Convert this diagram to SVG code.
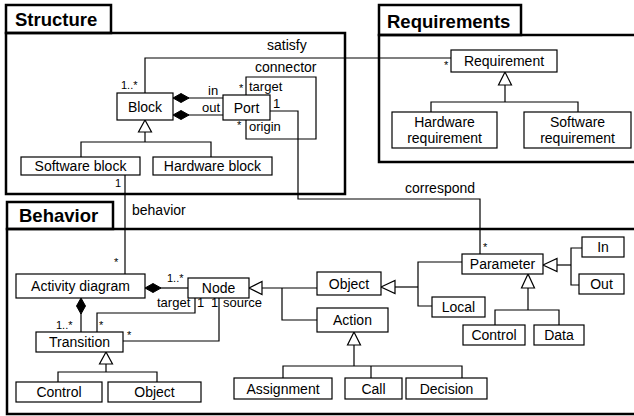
<svg xmlns="http://www.w3.org/2000/svg" width="634" height="416" viewBox="0 0 634 416">
<style>
text{font-family:"Liberation Sans",Arial,sans-serif;fill:#000}
.frame{fill:none;stroke:#000;stroke-width:2.5}
.title{font-size:18.5px;font-weight:bold}
.box{fill:#fff;stroke:#000;stroke-width:1.2}
.bt{font-size:14px;text-anchor:middle}
.ln{fill:none;stroke:#000;stroke-width:1.2}
.tri{fill:#fff;stroke:#000;stroke-width:1.2}
.dia{fill:#000;stroke:#000;stroke-width:1}
.nm{font-size:14px}
.rl{font-size:13px}
.mu{font-size:11px}
</style>
<rect width="634" height="416" fill="#fff"/>
<g id="frames">
<rect class="frame" x="6" y="33" width="339" height="161"/>
<rect class="frame" x="6" y="5" width="105" height="28"/>
<text class="title" x="15" y="26">Structure</text>
<rect class="frame" x="379" y="35" width="262" height="127"/>
<rect class="frame" x="379" y="5" width="142" height="30"/>
<text class="title" x="387" y="28">Requirements</text>
<rect class="frame" x="7" y="229" width="632" height="185"/>
<rect class="frame" x="7" y="202" width="106" height="27"/>
<text class="title" x="19" y="222">Behavior</text>
</g>
<g id="connectors">
<polyline class="ln" points="145,93 145,58 451,58"/>
<text class="nm" x="267" y="50">satisfy</text>
<text class="mu" x="121" y="89">1..*</text>
<text class="mu" x="444" y="69">*</text>
<line class="ln" x1="188" y1="98" x2="223" y2="98"/>
<polygon class="dia" points="173,98 181,93.5 189,98 181,102.5"/>
<line class="ln" x1="188" y1="115" x2="223" y2="115"/>
<polygon class="dia" points="173,115 181,110.5 189,115 181,119.5"/>
<text class="rl" x="208" y="95">in</text>
<text class="rl" x="202" y="112">out</text>
<polyline class="ln" points="246,95 246,77 316,77 316,139 246,139 246,120"/>
<text class="nm" x="255" y="72">connector</text>
<text class="mu" x="239" y="92">*</text>
<text class="rl" x="249" y="91">target</text>
<text class="mu" x="237" y="129">*</text>
<text class="rl" x="249" y="131">origin</text>
<text class="rl" x="273" y="108">1</text>
<polyline class="ln" points="270,111 298,111 298,199 480,199 480,254"/>
<text class="nm" x="405" y="193">correspond</text>
<text class="mu" x="483" y="251">*</text>
<polygon class="tri" points="145,120 138.5,132 151.5,132"/>
<polyline class="ln" points="145,132 145,142"/>
<polyline class="ln" points="81,157 81,142 211,142 211,157"/>
<line class="ln" x1="125" y1="175" x2="125" y2="274"/>
<text class="mu" x="115" y="187">1</text>
<text class="nm" x="132" y="215">behavior</text>
<text class="mu" x="114" y="266">*</text>
<polygon class="tri" points="505,72 498.5,85 511.5,85"/>
<line class="ln" x1="505" y1="85" x2="505" y2="102"/>
<polyline class="ln" points="431,112 431,102 578,102 578,112"/>
<line class="ln" x1="160" y1="288" x2="188" y2="288"/>
<polygon class="dia" points="145,288 153,283.5 161,288 153,292.5"/>
<text class="mu" x="167" y="282">1..*</text>
<line class="ln" x1="81" y1="313" x2="81" y2="332"/>
<polygon class="dia" points="81,298 85.5,306 81,314 76.5,306"/>
<text class="mu" x="56" y="329">1..*</text>
<polyline class="ln" points="195,298 195,313 97,313 97,332"/>
<text class="rl" x="157" y="307">target</text>
<text class="rl" x="197" y="307">1</text>
<text class="mu" x="99" y="329">*</text>
<polyline class="ln" points="219,298 219,341 123,341"/>
<text class="rl" x="211" y="307">1</text>
<text class="rl" x="223" y="307">source</text>
<text class="mu" x="127" y="339">*</text>
<polygon class="tri" points="106,352 99.5,364 112.5,364"/>
<line class="ln" x1="106" y1="364" x2="106" y2="372"/>
<polyline class="ln" points="58,382 58,372 157,372 157,382"/>
<polygon class="tri" points="249,288 262,281.5 262,294.5"/>
<line class="ln" x1="262" y1="288" x2="317" y2="288"/>
<polyline class="ln" points="282,288 282,320 317,320"/>
<polygon class="tri" points="354,332 347.5,345 360.5,345"/>
<line class="ln" x1="354" y1="345" x2="354" y2="366"/>
<polyline class="ln" points="283,378 283,366 462,366 462,378"/>
<line class="ln" x1="371" y1="366" x2="371" y2="378"/>
<polygon class="tri" points="381,287 395,280.5 395,293.5"/>
<line class="ln" x1="395" y1="287" x2="418" y2="287"/>
<polyline class="ln" points="462,262 418,262 418,306 432,306"/>
<polygon class="tri" points="543,265 557,258.5 557,271.5"/>
<line class="ln" x1="557" y1="265" x2="571" y2="265"/>
<polyline class="ln" points="582,248 571,248 571,285 579,285"/>
<polygon class="tri" points="528,274 521.5,288 534.5,288"/>
<line class="ln" x1="528" y1="288" x2="528" y2="310"/>
<polyline class="ln" points="495,325 495,310 559,310 559,325"/>
</g>
<g id="block"><rect class="box" x="117" y="93" width="56" height="27"/><text class="bt" x="145" y="111.5">Block</text></g>
<g id="port"><rect class="box" x="223" y="95" width="47" height="25"/><text class="bt" x="246.5" y="112.5">Port</text></g>
<g id="software-block"><rect class="box" x="21" y="157" width="119" height="18"/><text class="bt" x="80.5" y="171">Software block</text></g>
<g id="hardware-block"><rect class="box" x="153" y="157" width="119" height="18"/><text class="bt" x="212.5" y="171">Hardware block</text></g>
<g id="requirement"><rect class="box" x="451" y="50" width="106" height="22"/><text class="bt" x="504" y="66">Requirement</text></g>
<g id="hardware-requirement"><rect class="box" x="392" y="112" width="105" height="36"/><text class="bt" x="444.5" y="127">Hardware</text><text class="bt" x="444.5" y="143">requirement</text></g>
<g id="software-requirement"><rect class="box" x="524" y="112" width="107" height="36"/><text class="bt" x="577.5" y="127">Software</text><text class="bt" x="577.5" y="143">requirement</text></g>
<g id="activity-diagram"><rect class="box" x="16" y="274" width="129" height="24"/><text class="bt" x="80.5" y="291">Activity diagram</text></g>
<g id="node"><rect class="box" x="188" y="278" width="61" height="20"/><text class="bt" x="218.5" y="293">Node</text></g>
<g id="transition"><rect class="box" x="36" y="332" width="87" height="20"/><text class="bt" x="79.5" y="347">Transition</text></g>
<g id="control-transition"><rect class="box" x="16" y="382" width="86" height="20"/><text class="bt" x="59" y="397">Control</text></g>
<g id="object-transition"><rect class="box" x="108" y="382" width="93" height="20"/><text class="bt" x="154.5" y="397">Object</text></g>
<g id="object"><rect class="box" x="317" y="272" width="64" height="23"/><text class="bt" x="349" y="288.5">Object</text></g>
<g id="action"><rect class="box" x="317" y="308" width="71" height="24"/><text class="bt" x="352.5" y="325">Action</text></g>
<g id="assignment"><rect class="box" x="234" y="378" width="98" height="21"/><text class="bt" x="283" y="393.5">Assignment</text></g>
<g id="call"><rect class="box" x="345" y="378" width="57" height="21"/><text class="bt" x="373.5" y="393.5">Call</text></g>
<g id="decision"><rect class="box" x="406" y="378" width="81" height="21"/><text class="bt" x="446.5" y="393.5">Decision</text></g>
<g id="parameter"><rect class="box" x="462" y="254" width="81" height="20"/><text class="bt" x="502.5" y="269">Parameter</text></g>
<g id="local"><rect class="box" x="432" y="297" width="53" height="20"/><text class="bt" x="458.5" y="312">Local</text></g>
<g id="in"><rect class="box" x="582" y="237" width="42" height="20"/><text class="bt" x="603" y="252">In</text></g>
<g id="out"><rect class="box" x="579" y="274" width="45" height="20"/><text class="bt" x="601.5" y="289">Out</text></g>
<g id="control-parameter"><rect class="box" x="463" y="325" width="62" height="20"/><text class="bt" x="494" y="340">Control</text></g>
<g id="data"><rect class="box" x="534" y="325" width="50" height="20"/><text class="bt" x="559" y="340">Data</text></g>
</svg>
